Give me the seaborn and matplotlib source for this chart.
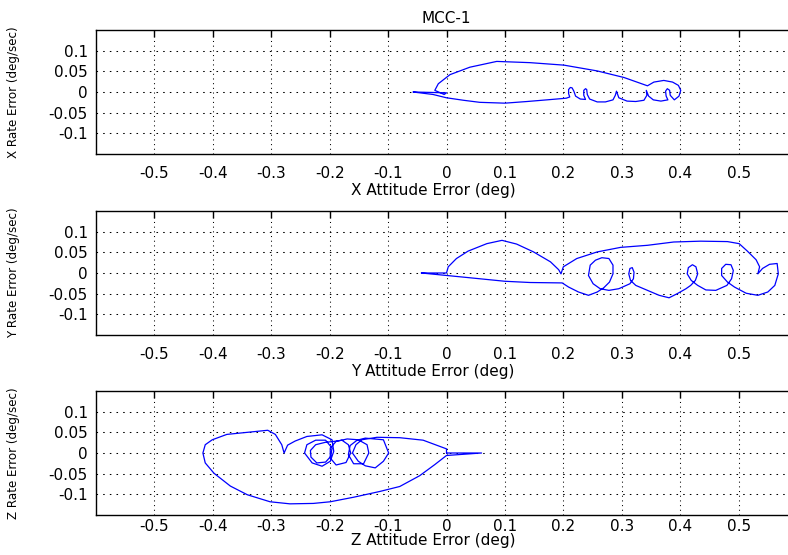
import numpy as np
import pandas as pd
import matplotlib
matplotlib.use("Agg")
import matplotlib.pyplot as plt
import seaborn as sns

# ---------------- data ----------------
title_text = "MCC-1"
x_labels = ["X Attitude Error (deg)", "Y Attitude Error (deg)", "Z Attitude Error (deg)"]
y_labels = ["X Rate Error (deg/sec)", "Y Rate Error (deg/sec)", "Z Rate Error (deg/sec)"]

x_ticks = [-0.5, -0.4, -0.3, -0.2, -0.1, 0, 0.1, 0.2, 0.3, 0.4, 0.5]
x_tick_labels = ["-0.5", "-0.4", "-0.3", "-0.2", "-0.1", "0", "0.1", "0.2", "0.3", "0.4", "0.5"]
y_ticks = [-0.1, -0.05, 0, 0.05, 0.1]
y_tick_labels = ["-0.1", "-0.05", "0", "0.05", "0.1"]

# X axis phase trajectory
x_att = [-0.057, 0.000, -0.004, -0.020, -0.014, 0.006, 0.040, 0.086, 0.143, 0.201, 0.258,
         0.304, 0.344, 0.355, 0.372, 0.387, 0.397, 0.401, 0.398, 0.390,
         0.383, 0.382, 0.378, 0.375, 0.376, 0.379, 0.367, 0.354, 0.346, 0.342, 0.343,
         0.338, 0.324, 0.309, 0.295, 0.291, 0.289, 0.285, 0.272, 0.258,
         0.245, 0.241, 0.240, 0.238, 0.235, 0.235, 0.238, 0.229,
         0.221, 0.218, 0.215, 0.212, 0.209, 0.209, 0.211, 0.205,
         0.172, 0.138, 0.100, 0.057, 0.029, 0.000, -0.023, -0.057]
x_rate = [0.000, -0.002, -0.006, 0.004, 0.020, 0.042, 0.060, 0.074, 0.071, 0.065, 0.051,
          0.035, 0.015, 0.024, 0.028, 0.024, 0.016, 0.004, -0.010, -0.019,
          -0.008, 0.004, 0.008, 0.002, -0.010, -0.019, -0.022, -0.019, -0.010, 0.004, -0.008,
          -0.020, -0.023, -0.022, -0.014, 0.002, -0.008, -0.019, -0.024, -0.024,
          -0.017, -0.006, 0.006, 0.008, 0.004, -0.008, -0.018, -0.017,
          -0.010, 0.002, 0.010, 0.011, 0.006, -0.004, -0.012, -0.015,
          -0.019, -0.023, -0.027, -0.025, -0.020, -0.014, -0.006, 0.000]

# Y axis phase trajectory
y_att = [-0.043, 0.000, 0.003, 0.017, 0.037, 0.069, 0.095, 0.120, 0.149, 0.178, 0.192,
         0.196, 0.200, 0.223, 0.258, 0.298, 0.344, 0.389, 0.435, 0.481, 0.501, 0.515,
         0.530, 0.536, 0.533, 0.541, 0.553, 0.566, 0.568, 0.562, 0.550, 0.533, 0.513,
         0.493, 0.481, 0.471, 0.471, 0.478, 0.487, 0.491, 0.488, 0.480, 0.461,
         0.444, 0.430, 0.419, 0.412, 0.414, 0.421, 0.427, 0.430, 0.426, 0.418, 0.410,
         0.395, 0.381, 0.364, 0.344, 0.324, 0.315, 0.312, 0.314, 0.318, 0.321, 0.320,
         0.314, 0.295, 0.278, 0.263, 0.251, 0.243, 0.246, 0.255, 0.266, 0.278, 0.285,
         0.285, 0.279, 0.269, 0.258, 0.243, 0.226, 0.209, 0.198, 0.143,
         0.100, 0.029, -0.043]
y_rate = [0.000, 0.000, 0.015, 0.035, 0.053, 0.071, 0.079, 0.070, 0.051, 0.027, 0.008,
          -0.002, 0.015, 0.035, 0.051, 0.062, 0.067, 0.075, 0.077, 0.076, 0.071, 0.053,
          0.032, 0.015, -0.002, 0.011, 0.021, 0.023, -0.002, -0.030, -0.046, -0.054, -0.049,
          -0.034, -0.022, -0.006, 0.011, 0.021, 0.020, 0.006, -0.014, -0.030, -0.042,
          -0.041, -0.030, -0.018, -0.002, 0.013, 0.020, 0.015, -0.002, -0.018, -0.030, -0.038,
          -0.050, -0.060, -0.054, -0.042, -0.030, -0.018, -0.002, 0.011, 0.013, 0.002, -0.014,
          -0.026, -0.038, -0.042, -0.038, -0.026, -0.006, 0.019, 0.031, 0.037, 0.035, 0.019,
          -0.002, -0.022, -0.036, -0.046, -0.054, -0.046, -0.034, -0.024, -0.023,
          -0.020, -0.010, 0.000]

# Z axis phase trajectory
z_att = [0.000, 0.060, 0.000, -0.020, -0.046, -0.080, -0.114, -0.159, -0.199, -0.228,
         -0.268, -0.302, -0.341, -0.370, -0.398, -0.413, -0.417, -0.413, -0.401, -0.376,
         -0.341, -0.306, -0.293, -0.282, -0.278,
         -0.272, -0.259, -0.239, -0.213, -0.196, -0.193, -0.199, -0.213, -0.230, -0.243,
         -0.239, -0.224, -0.207, -0.196, -0.198, -0.207, -0.222, -0.232, -0.233, -0.224,
         -0.207, -0.193, -0.179, -0.168, -0.164, -0.172, -0.189, -0.199, -0.199, -0.189,
         -0.170, -0.151, -0.136, -0.133, -0.142, -0.159, -0.168, -0.165, -0.153, -0.139,
         -0.108, -0.099, -0.108, -0.122, -0.139, -0.151, -0.161, -0.155, -0.145, -0.119,
         -0.080, -0.040, 0.000, 0.000]
z_rate = [0.000, 0.000, -0.006, -0.028, -0.055, -0.081, -0.093, -0.107, -0.118, -0.122,
          -0.123, -0.118, -0.101, -0.080, -0.049, -0.024, 0.000, 0.020, 0.032, 0.045,
          0.050, 0.055, 0.045, 0.020, 0.000,
          0.019, 0.029, 0.040, 0.044, 0.032, 0.004, -0.020, -0.032, -0.024, 0.000,
          0.020, 0.031, 0.031, 0.012, -0.008, -0.022, -0.024, -0.010, 0.006, 0.020,
          0.026, 0.028, 0.031, 0.020, 0.000, -0.023, -0.029, -0.012, 0.012, 0.028,
          0.034, 0.032, 0.020, 0.000, -0.026, -0.026, -0.004, 0.018, 0.031, 0.036,
          0.032, 0.000, -0.020, -0.036, -0.031, -0.020, 0.000, 0.020, 0.032, 0.038,
          0.037, 0.031, 0.010, 0.000]

series = [(x_att, x_rate), (y_att, y_rate), (z_att, z_rate)]

# ---------------- style ----------------
sns.set_theme(style="white")
plt.rcParams["font.family"] = ["DejaVu Sans"]
plt.rcParams["axes.unicode_minus"] = False

W, H = 788, 555
fig = plt.figure(figsize=(W / 100, H / 100), dpi=100)
fig.patch.set_facecolor("white")

left_px, right_px = 96, 797
tops_px = [30, 211, 391]
ax_h_px = 124
tick_pads = [8.5, 8.5, 3.0]
xlabel_y = [-0.23, -0.23, -0.145]

for i, (xs, ys) in enumerate(series):
    top = tops_px[i]
    ax = fig.add_axes([left_px / W, 1 - (top + ax_h_px) / H,
                       (right_px - left_px) / W, ax_h_px / H])
    ax.set_facecolor("white")
    df = pd.DataFrame({"att": xs, "rate": ys})
    sns.lineplot(data=df, x="att", y="rate", sort=False, estimator=None,
                 color="#0000FF", lw=0.9, ax=ax)
    ax.set_xlim(-0.6, 0.6)
    ax.set_ylim(-0.15, 0.15)
    ax.set_xticks(x_ticks)
    ax.set_xticklabels(x_tick_labels)
    ax.set_yticks(y_ticks)
    ax.set_yticklabels(y_tick_labels)
    ax.tick_params(axis="both", direction="in", length=5, width=1.0, color="black",
                   labelsize=11, labelcolor="black", top=True, right=True)
    ax.tick_params(axis="x", pad=tick_pads[i])
    ax.tick_params(axis="y", pad=6)
    ax.xaxis.grid(True, color="black", lw=0.75, linestyle=(0, (1, 3.5)))
    ax.yaxis.grid(True, color="black", lw=0.75, linestyle=(0, (1.5, 4.9)))
    for s in ax.spines.values():
        s.set_color("black")
        s.set_linewidth(1.0)
        s.set_visible(True)
    ax.set_xlabel(x_labels[i], fontsize=11, color="black")
    ax.xaxis.set_label_coords((433 - left_px) / (right_px - left_px), xlabel_y[i])
    ax.set_ylabel(y_labels[i], fontsize=8.6, color="black")
    ax.yaxis.set_label_coords(-(left_px - 20) / (right_px - left_px), 0.5)
    if i == 0:
        ax.set_title(title_text, fontsize=11, color="black", pad=5)

fig.savefig("out.png", dpi=100, facecolor="white")
